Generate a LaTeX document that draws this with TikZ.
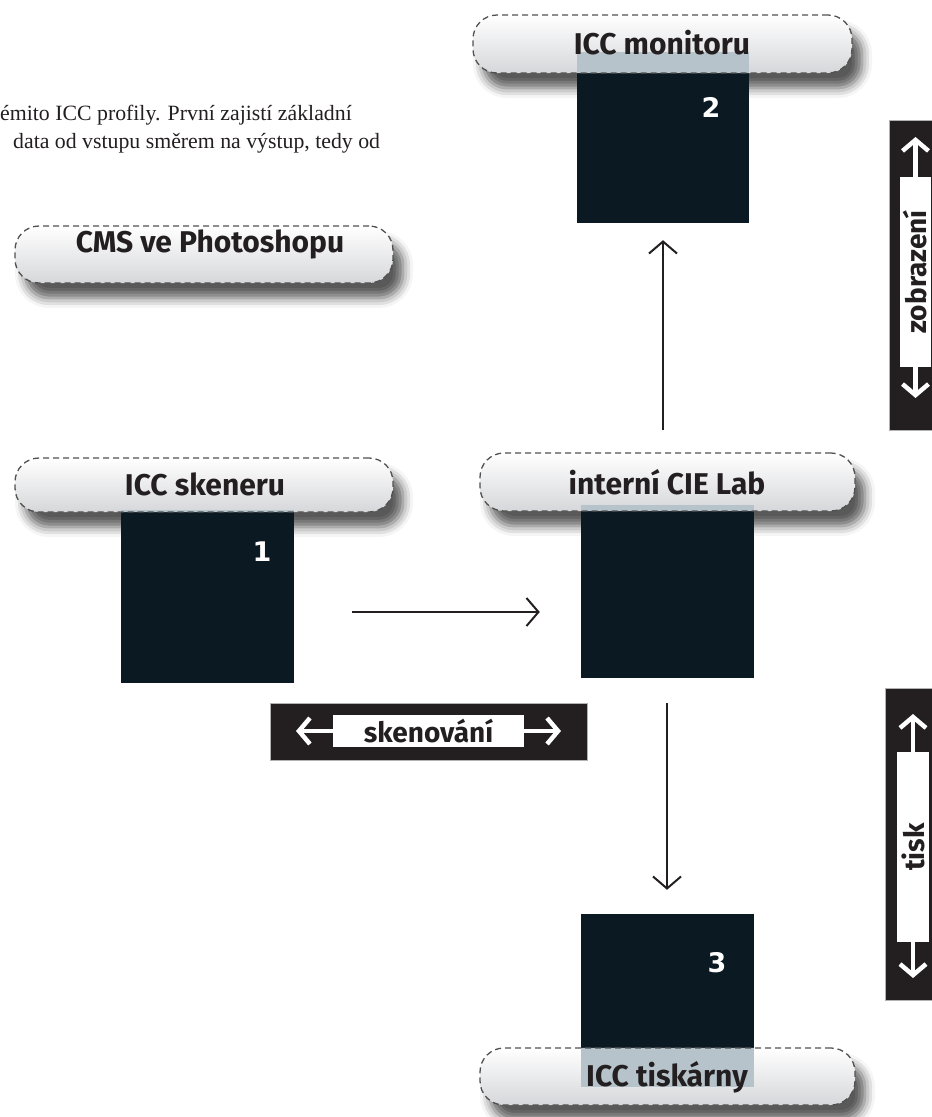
\documentclass[tikz,border=0pt]{standalone}
\usepackage{fontspec}
\setmainfont{Liberation Serif}
\newfontfamily\labelfont{Fira Sans}
\newfontfamily\numberfont{DejaVu Sans}
\usetikzlibrary{shadows.blur,arrows.meta,calc}

\definecolor{ink}{HTML}{231F20}
\definecolor{sqdark}{HTML}{0A1922}
\definecolor{sqlight}{HTML}{B6C3CB}
\definecolor{pillbot}{HTML}{D6D7DA}
\definecolor{dashgray}{HTML}{505050}

\tikzset{
  pillbase/.style={rectangle, rounded corners=24pt, minimum height=58pt,
    top color=white, bottom color=pillbot, inner sep=0pt,
    blur shadow={shadow xshift=10pt, shadow yshift=-15pt,
      shadow blur radius=10pt, shadow opacity=65}},
  pillframe/.style={rectangle, rounded corners=24pt, minimum height=58pt,
    draw=dashgray, line width=1.3pt, dash pattern=on 6pt off 4pt, inner sep=0pt},
  pilltext/.style={font=\labelfont\bfseries\fontsize{30}{30}\selectfont, text=ink, inner sep=0pt},
  sqbox/.style={rectangle, fill=sqdark, inner sep=0pt},
  numtext/.style={font=\numberfont\bfseries\fontsize{27}{27}\selectfont, text=white, inner sep=0pt},
  barbox/.style={rectangle, fill=ink, draw=gray!60, line width=0.6pt, inner sep=0pt},
  barlabel/.style={rectangle, fill=white, inner sep=0pt, text=ink,
    font=\labelfont\bfseries\fontsize{28}{28}\selectfont},
  whitearrow/.style={draw=white, line width=4.5pt,
    -{Straight Barb[length=11pt, width=26pt, line width=4.5pt]}},
  conn/.style={draw=ink, line width=2pt,
    -{Straight Barb[length=12pt, width=28pt, line width=2pt]}},
  bodytext/.style={font=\fontsize{21.8}{22}\selectfont, text=ink, inner sep=0pt, anchor=base west},
}

\begin{document}
\begin{tikzpicture}[x=1pt, y=-1pt]
\useasboundingbox (0,0) rectangle (932,1117);

% running text
\node[bodytext] (line1) at (0,120) {émito ICC profily. První zajistí základní};
\node[bodytext] (line2) at (13,148) {data od vstupu směrem na výstup, tedy od};

% ---- monitor profile
\node[pillbase, minimum width=379pt] (monPill) at (662.5,44) {};
\node[sqbox, minimum width=172pt, minimum height=171pt] (monSq) at (663,137.5) {};
\begin{scope}
  \clip[rounded corners=24pt] (monPill.south west) rectangle (monPill.north east);
  \fill[sqlight] (monSq.south west) rectangle (monSq.north east);
\end{scope}
\node[pillframe, minimum width=379pt] (monFrame) at (monPill) {};
\node[pilltext] (monText) at (662,43) {ICC monitoru};
\node[numtext] (monNum) at (711,107) {2};

% ---- CMS title
\node[pillbase, minimum width=378pt, minimum height=57pt] (cmsPill) at (204,254.5) {};
\node[pillframe, minimum width=378pt, minimum height=57pt] (cmsFrame) at (cmsPill) {};
\node[pilltext] (cmsText) at (210,244) {CMS ve Photoshopu};

% ---- scanner profile
\node[pillbase, minimum width=378pt, minimum height=54pt] (sknPill) at (204,485) {};
\node[sqbox, minimum width=173pt, minimum height=173pt] (sknSq) at (207.5,596.5) {};
\begin{scope}
  \clip[rounded corners=24pt] (sknPill.south west) rectangle (sknPill.north east);
  \fill[sqlight] (sknSq.south west) rectangle (sknSq.north east);
\end{scope}
\node[pillframe, minimum width=378pt, minimum height=54pt] (sknFrame) at (sknPill) {};
\node[pilltext] (sknText) at (205,484) {ICC skeneru};
\node[numtext] (sknNum) at (262,552) {1};

% ---- internal CIE Lab
\node[pillbase, minimum width=375pt] (labPill) at (667.5,482) {};
\node[sqbox, minimum width=173pt, minimum height=173pt] (labSq) at (667.5,591.5) {};
\begin{scope}
  \clip[rounded corners=24pt] (labPill.south west) rectangle (labPill.north east);
  \fill[sqlight] (labSq.south west) rectangle (labSq.north east);
\end{scope}
\node[pillframe, minimum width=375pt] (labFrame) at (labPill) {};
\node[pilltext] (labText) at (667,482) {interní CIE Lab};

% ---- printer profile
\node[pillbase, minimum width=375pt, minimum height=57pt] (tisPill) at (667.5,1076.5) {};
\node[sqbox, minimum width=173pt, minimum height=173pt] (tisSq) at (667.5,1000.5) {};
\begin{scope}
  \clip[rounded corners=24pt] (tisPill.south west) rectangle (tisPill.north east);
  \fill[sqlight] (tisSq.south west) rectangle (tisSq.north east);
\end{scope}
\node[pillframe, minimum width=375pt, minimum height=57pt] (tisFrame) at (tisPill) {};
\node[pilltext] (tisText) at (667,1077) {ICC tiskárny};
\node[numtext] (tisNum) at (717,963) {3};

% ---- connectors between the colour spaces
\coordinate (scanRow) at (0,612);
\coordinate (upCol) at (663,0);
\coordinate (downCol) at (667,0);
\draw[conn, shorten <=58pt, shorten >=41pt] (sknSq.east |- scanRow) -- (labSq.west |- scanRow);
\draw[conn, shorten <=23pt, shorten >=17pt] (labPill.north -| upCol) -- (monSq.south -| upCol);
\draw[conn, shorten <=25pt, shorten >=24pt] (labSq.south -| downCol) -- (tisSq.north -| downCol);

% ---- direction bars
% display
\node[barbox, minimum width=43pt, minimum height=310pt] (zobBar) at (910.5,275) {};
\node[barlabel, rotate=90, minimum width=190pt, minimum height=31pt] (zobLabel) at (915.5,272) {zobrazení};
\coordinate (zobUp) at (915.5,137);
\coordinate (zobDown) at (915.5,398);
\draw[whitearrow] (zobLabel) -- (zobUp);
\draw[whitearrow] (zobLabel) -- (zobDown);

% print
\node[barbox, minimum width=47pt, minimum height=312pt] (tiskBar) at (908.5,844) {};
\node[barlabel, rotate=90, minimum width=190pt, minimum height=32pt] (tiskLabel) at (913,847) {tisk};
\coordinate (tiskUp) at (913,714);
\coordinate (tiskDown) at (913,978);
\draw[whitearrow] (tiskLabel) -- (tiskUp);
\draw[whitearrow] (tiskLabel) -- (tiskDown);

% scanning
\node[barbox, minimum width=317pt, minimum height=57pt] (scanBar) at (428.5,731.5) {};
\node[barlabel, minimum width=191pt, minimum height=32pt] (scanLabel) at (428.5,731) {skenování};
\coordinate (scanLeft) at (296,731);
\coordinate (scanRight) at (561,731);
\draw[whitearrow] (scanLabel) -- (scanLeft);
\draw[whitearrow] (scanLabel) -- (scanRight);
\end{tikzpicture}
\end{document}
